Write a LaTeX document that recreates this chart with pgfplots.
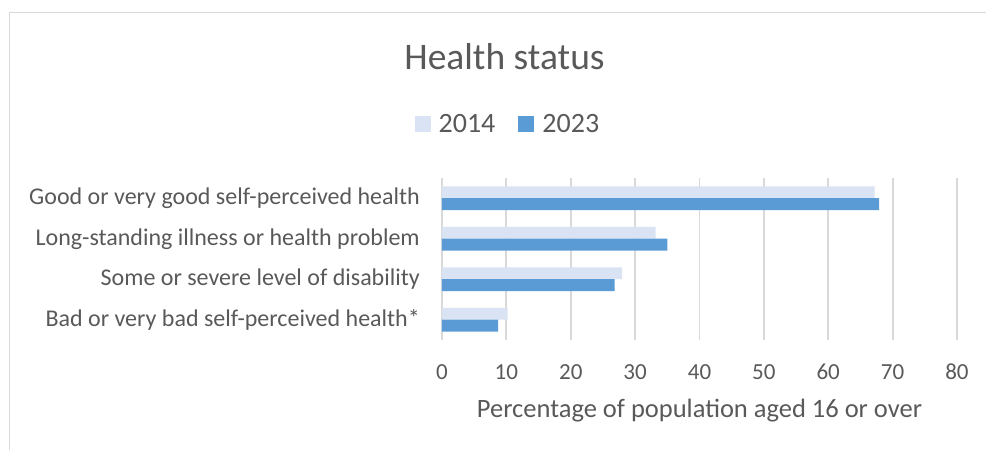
\documentclass[border=0pt]{standalone}
\usepackage{pgfplots}
\pgfplotsset{compat=1.18}
\usepackage{fontspec}
\setmainfont{Carlito}
\definecolor{txt}{HTML}{595959}
\definecolor{gridc}{HTML}{D9D9D9}
\definecolor{cA}{HTML}{DAE3F3}
\definecolor{cB}{HTML}{5B9BD5}
\begin{document}
\begin{tikzpicture}
\useasboundingbox (0,0) rectangle (986pt,450pt);
\draw[gridc, line width=1.2pt] (9.5pt,0) -- (9.5pt,437.5pt) -- (986pt,437.5pt);
\node[txt, font=\fontsize{37.5}{42}\selectfont] at (504.5pt,393pt) {Health status};
\begin{axis}[
  at={(442pt,110pt)}, anchor=south west,
  scale only axis, width=515pt, height=162pt,
  xmin=0, xmax=80, ymin=-0.5, ymax=3.5,
  xtick={0,10,...,80},
  ytick={0,1,2,3},
  yticklabels={Bad or very bad self-perceived health*,Some or severe level of disability,Long-standing illness or health problem,Good or very good self-perceived health},
  axis line style={draw=none},
  major tick length=0pt,
  xmajorgrids=true, ymajorgrids=false,
  major grid style={draw=gridc, line width=1.8pt},
  /pgf/number format/assume math mode=true,
  xticklabel style={font=\fontsize{23}{26}\selectfont, text=txt, anchor=base, inner sep=0pt, yshift=-39pt},
  yticklabel style={font=\fontsize{24}{28}\selectfont, text=txt, anchor=east, inner sep=0pt, xshift=-22pt},
  xlabel={Percentage of population aged 16 or over},
  xlabel style={at={(axis description cs:0.5,0)}, anchor=base, inner sep=0pt, yshift=-77pt, font=\fontsize{26.5}{30}\selectfont, text=txt},
  xbar, bar width=11.8pt,
  legend columns=2,
  legend style={at={(0.128,1.333)}, anchor=center, draw=none, fill=none,
    font=\fontsize{28}{32}\selectfont, text=txt,
    /tikz/every even column/.append style={column sep=21pt}},
  legend image code/.code={\fill[#1, draw=none] (0pt,-8pt) rectangle (16pt,8pt); \path (22pt,0pt);},
]
\addplot[fill=cA, draw=none, bar shift=5.9pt] coordinates {(10.2,0) (28.0,1) (33.2,2) (67.2,3)};
\addplot[fill=cB, draw=none, bar shift=-5.9pt] coordinates {(8.7,0) (26.8,1) (35.0,2) (67.9,3)};
\legend{2014,2023}
\end{axis}
\end{tikzpicture}
\end{document}
